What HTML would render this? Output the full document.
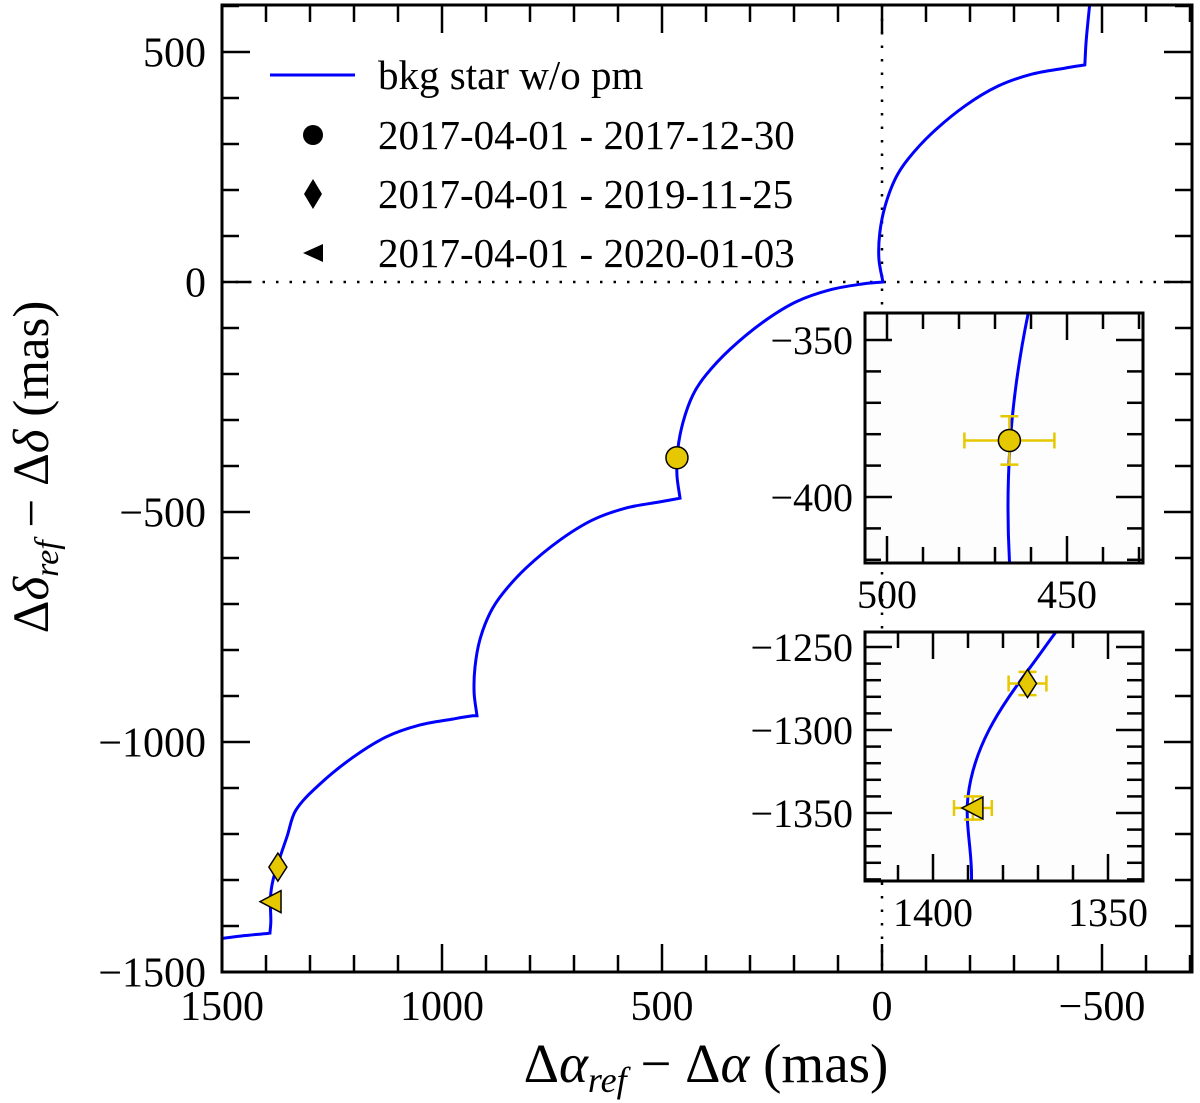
<!DOCTYPE html>
<html><head><meta charset="utf-8"><style>
html,body{margin:0;padding:0;background:#fff;overflow:hidden;width:1200px;height:1103px}
svg{display:block}
text{font-family:"Liberation Serif","DejaVu Serif",serif;fill:#000}
</style></head><body>
<svg id="chart" width="1200" height="1103" viewBox="0 0 1200 1103" xmlns="http://www.w3.org/2000/svg">
<defs>
<clipPath id="clipMain"><rect x="222" y="5" width="970" height="967"/></clipPath>
<clipPath id="clipIn1"><rect x="865" y="313" width="278" height="250"/></clipPath>
<clipPath id="clipIn2"><rect x="865" y="632" width="278" height="249"/></clipPath>
</defs>
<g id="main"></g>
<g id="inset1"></g>
<g id="inset2"></g>
<g id="legend">
  <line x1="270" y1="75" x2="355" y2="75" stroke="#0000ff" stroke-width="3"/>
  <text x="378" y="89" font-size="41">bkg star w/o pm</text>
  <circle cx="313" cy="135" r="10" fill="#000"/>
  <text x="378" y="149" font-size="41">2017-04-01 - 2017-12-30</text>
  <polygon points="313,179 322,194 313,209 304,194" fill="#000"/>
  <text x="378" y="208" font-size="41">2017-04-01 - 2019-11-25</text>
  <polygon points="303,253 323,244 323,262" fill="#000"/>
  <text x="378" y="267" font-size="41">2017-04-01 - 2020-01-03</text>
</g>
<text x="706" y="1082" font-size="55" text-anchor="middle">Δ<tspan font-style="italic">α</tspan><tspan font-style="italic" font-size="36" dy="10">ref</tspan><tspan dy="-10"> − Δ</tspan><tspan font-style="italic">α</tspan> (mas)</text>
<text transform="translate(48,467) rotate(-90)" font-size="51" text-anchor="middle">Δ<tspan font-style="italic">δ</tspan><tspan font-style="italic" font-size="34" dy="10">ref</tspan><tspan dy="-10"> − Δ</tspan><tspan font-style="italic">δ</tspan> (mas)</text>
</svg>
<script>
// Background star track (mas)
const curveX = [1500,1450,1395,1388,1391,1389,1390,1384,1368,1352,1332,1277,1202,1127,1050,975,930,920.5,927,925,914,891,861,807,732,657,580,505,459,466,464,452,430,400,345,270,195,118,43,-2,7,5,-7,-30,-59,-114,-189,-264,-341,-416,-461,-464,-473];
const curveY = [-1427,-1421,-1416,-1415,-1415,-1390,-1340,-1300,-1250,-1205,-1148,-1091,-1033,-989,-963,-950,-943,-943,-893,-837,-778,-720,-676,-620,-561,-517,-491,-478,-470,-420,-363,-304,-246,-202,-146,-87,-43,-17,-4,0,50,107,165,224,267,324,383,426,452,465,472,524,613];
// Epoch measurements
const obsNames = ["2017-12-30","2019-11-25","2020-01-03"];
const obsX = [466,1373,1388.6];
const obsY = [-382,-1272,-1347];
const obsXErr = [12.5,5.4,5.4];
const obsYErr = [7.7,7,7];
const obsMarker = ["circle","diamond","triangle"];
// Tick labels
const mainXTicks = [1500,1000,500,0,-500];
const mainYTicks = [500,0,-500,-1000,-1500];
const in1XTicks = [500,450];
const in1YTicks = [-350,-400];
const in2XTicks = [1400,1350];
const in2YTicks = [-1250,-1300,-1350];

const NS="http://www.w3.org/2000/svg";
function mk(tag,attrs,parent){const e=document.createElementNS(NS,tag);for(const k in attrs)e.setAttribute(k,attrs[k]);parent.appendChild(e);return e;}

function pathFrom(xs,ys,X,Y){
  const p=xs.map((v,i)=>[X(v),Y(ys[i])]);
  const n=p.length;
  // tangents with corner detection
  const tan=p.map((q,i)=>{
    const a=p[i-1],b=p[i+1];
    if(!a) return [(b[0]-q[0]),(b[1]-q[1])];
    if(!b) return [(q[0]-a[0]),(q[1]-a[1])];
    const v1=[q[0]-a[0],q[1]-a[1]],v2=[b[0]-q[0],b[1]-q[1]];
    const l1=Math.hypot(...v1)||1,l2=Math.hypot(...v2)||1;
    const cos=(v1[0]*v2[0]+v1[1]*v2[1])/(l1*l2);
    if(cos<0.6) return null; // corner
    return [(b[0]-a[0])/2,(b[1]-a[1])/2];
  });
  let d="M"+p[0][0].toFixed(2)+","+p[0][1].toFixed(2);
  for(let i=0;i<n-1;i++){
    const p1=p[i],p2=p[i+1];
    const seg=[p2[0]-p1[0],p2[1]-p1[1]];
    const segLen=Math.hypot(...seg);
    let t1=tan[i],t2=tan[i+1];
    const lim=(t)=>{ if(!t) return seg; const l=Math.hypot(...t)||1; return [t[0]/l*segLen,t[1]/l*segLen]; };
    t1=lim(t1);t2=lim(t2);
    const c1=[p1[0]+t1[0]/3,p1[1]+t1[1]/3];
    const c2=[p2[0]-t2[0]/3,p2[1]-t2[1]/3];
    d+=" C"+c1[0].toFixed(2)+","+c1[1].toFixed(2)+" "+c2[0].toFixed(2)+","+c2[1].toFixed(2)+" "+p2[0].toFixed(2)+","+p2[1].toFixed(2);
  }
  return d;
}

function drawMarker(g,kind,cx,cy,s){
  let el;
  if(kind==="circle") el=mk("circle",{cx:cx,cy:cy,r:11*s,fill:"#e6c800",stroke:"#000","stroke-width":1.5},g);
  else if(kind==="diamond") el=mk("polygon",{points:`${cx},${cy-14*s} ${cx+9*s},${cy} ${cx},${cy+14*s} ${cx-9*s},${cy}`,fill:"#e6c800",stroke:"#000","stroke-width":1.5},g);
  else el=mk("polygon",{points:`${cx-11*s},${cy} ${cx+10*s},${cy-11*s} ${cx+10*s},${cy+11*s}`,fill:"#e6c800",stroke:"#000","stroke-width":1.5},g);
  
  
  return el;
}

function axesBox(g,L,T,R,B,X,Y,xr,yr,xMajor,yMajor,xMinorStep,yMinorStep,maj,mino,fs,xTicks,yTicks,xlabOff,ylabOff){
  const lo=Math.min(xr[0],xr[1]),hi=Math.max(xr[0],xr[1]);
  for(let v=Math.ceil(lo/xMinorStep)*xMinorStep;v<=hi;v+=xMinorStep){
    const px=X(v);const isMaj=Math.abs(v/xMajor-Math.round(v/xMajor))<1e-6;const len=isMaj?maj:mino;
    const t1=mk("line",{x1:px,y1:B,x2:px,y2:B-len,stroke:"#000","stroke-width":2.5},g);
    
    
    const t2=mk("line",{x1:px,y1:T,x2:px,y2:T+len,stroke:"#000","stroke-width":2.5},g);
    
    
  }
  const ylo=Math.min(yr[0],yr[1]),yhi=Math.max(yr[0],yr[1]);
  for(let v=Math.ceil(ylo/yMinorStep)*yMinorStep;v<=yhi;v+=yMinorStep){
    const py=Y(v);const isMaj=Math.abs(v/yMajor-Math.round(v/yMajor))<1e-6;const len=isMaj?maj:mino;
    const t1=mk("line",{x1:L,y1:py,x2:L+len,y2:py,stroke:"#000","stroke-width":2.5},g);
    
    
    const t2=mk("line",{x1:R,y1:py,x2:R-len,y2:py,stroke:"#000","stroke-width":2.5},g);
    
    
  }
  const fr=mk("rect",{x:L,y:T,width:R-L,height:B-T,fill:"none",stroke:"#000","stroke-width":3},g);
  
  
  xTicks.forEach(v=>{
    const t=mk("text",{x:X(v),y:B+xlabOff,"font-size":fs,"text-anchor":"middle"},g);
    t.textContent=(v<0?"−":"")+Math.abs(v);
    
    
  });
  yTicks.forEach(v=>{
    const t=mk("text",{x:L-ylabOff,y:Y(v)+fs*0.35,"font-size":fs,"text-anchor":"end"},g);
    t.textContent=(v<0?"−":"")+Math.abs(v);
    
    
  });
}

// ---------- main ----------
(function(){
  const g=document.getElementById("main");
  const X=v=>222+(1500-v)*0.44, Y=v=>282-v*0.46;
  const dv=mk("line",{x1:X(0),y1:5,x2:X(0),y2:972,stroke:"#000","stroke-width":2.5,"stroke-dasharray":"2.5,11"},g);
  
  
  const dh=mk("line",{x1:222,y1:Y(0),x2:1192,y2:Y(0),stroke:"#000","stroke-width":2.5,"stroke-dasharray":"2.5,11"},g);
  
  
  const c=mk("path",{d:pathFrom(curveX,curveY,X,Y),fill:"none",stroke:"#0000ff","stroke-width":3,"clip-path":"url(#clipMain)"},g);
  
  
  obsX.forEach((v,i)=>drawMarker(g,obsMarker[i],X(v),Y(obsY[i]),1));
  axesBox(g,222,5,1192,972,X,Y,[1500,-700],[-1500,603],500,500,100,100,28,17,42,mainXTicks,mainYTicks,48,16);
})();

// ---------- inset helper ----------
function inset(id,L,T,R,B,X,Y,xr,yr,xMajor,yMajor,xTicks,yTicks,clip,idxs){
  const g=document.getElementById(id);
  const bg=mk("rect",{x:L,y:T,width:R-L,height:B-T,fill:"#fdfdfd"},g);
  
  
  const c=mk("path",{d:pathFrom(curveX,curveY,X,Y),fill:"none",stroke:"#0000ff","stroke-width":3,"clip-path":`url(#${clip})`},g);
  
  
  idxs.forEach(i=>{
    const cx=X(obsX[i]),cy=Y(obsY[i]);
    const x1=X(obsX[i]+obsXErr[i]),x2=X(obsX[i]-obsXErr[i]);
    const y1=Y(obsY[i]+obsYErr[i]),y2=Y(obsY[i]-obsYErr[i]);
    const eg=mk("g",{stroke:"#e6c800","stroke-width":2.5},g);
    
    
    mk("line",{x1:x1,y1:cy,x2:x2,y2:cy},eg);
    mk("line",{x1:cx,y1:y1,x2:cx,y2:y2},eg);
    mk("line",{x1:x1,y1:cy-8,x2:x1,y2:cy+8},eg);
    mk("line",{x1:x2,y1:cy-8,x2:x2,y2:cy+8},eg);
    mk("line",{x1:cx-9,y1:y1,x2:cx+9,y2:y1},eg);
    mk("line",{x1:cx-9,y1:y2,x2:cx+9,y2:y2},eg);
    drawMarker(g,obsMarker[i],cx,cy,1);
  });
  axesBox(g,L,T,R,B,X,Y,xr,yr,xMajor,yMajor,10,10,27,16,40,xTicks,yTicks,45,12);
}
inset("inset1",865,313,1143,563,v=>887+(500-v)*3.6,v=>340-(v+350)*3.14,[506,429],[-421,-341.4],50,50,in1XTicks,in1YTicks,"clipIn1",[0]);
inset("inset2",865,632,1143,881,v=>933+(1400-v)*3.5,v=>647-(v+1250)*1.66,[1419,1340],[-1391,-1241],50,50,in2XTicks,in2YTicks,"clipIn2",[1,2]);
</script>
</body></html>
